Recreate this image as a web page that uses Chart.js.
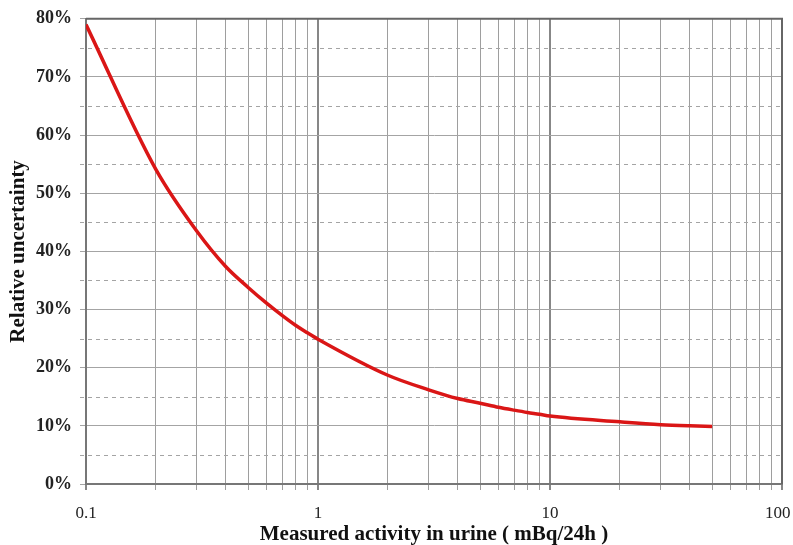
<!DOCTYPE html>
<html>
<head>
<meta charset="utf-8">
<script src="https://cdn.jsdelivr.net/npm/chart.js@4/dist/chart.umd.min.js"></script>
<style>
  html, body { margin: 0; padding: 0; background: #fff; }
  #wrap { width: 793px; height: 545px; }
</style>
</head>
<body>
<div id="wrap"><canvas id="c" width="793" height="545"></canvas></div>
<script>
// Measured activity (mBq/24h) and relative uncertainty (%)
const activity = [0.1, 0.2, 0.3, 0.4, 0.5, 0.6, 0.7, 0.8, 0.9, 1, 2, 3, 4, 5, 6, 7, 8, 9, 10, 20, 30, 40, 50];
const uncertainty = [79, 54.1, 43.5, 37.4, 33.8, 31.1, 29.0, 27.3, 26.0, 24.9, 18.7, 16.2, 14.7, 13.9, 13.2, 12.7, 12.3, 12.0, 11.7, 10.7, 10.2, 10.0, 9.9];

// Axis tick labels
const xLabelTicks = [0.1, 1, 10, 100];
const yLabelStep = 10;
const yMax = 80;

// log grid: every 1..9 step inside each decade
const xGridTicks = [];
for (let d = 0.1; d < 100; d *= 10) {
  for (let k = 1; k <= 9; k++) xGridTicks.push(+(k * d).toPrecision(3));
}
xGridTicks.push(100);

const serif = '"Liberation Serif", "DejaVu Serif", serif';

// dashed half-step lines and dark frame
const framePlugin = {
  id: 'frame',
  beforeDatasetsDraw(chart) {
    const { ctx, chartArea: a, scales } = chart;
    const y = scales.y;
    ctx.save();
    ctx.strokeStyle = '#a4a4a4';
    ctx.lineWidth = 1;
    ctx.setLineDash([4, 4]);
    for (let v = 5; v < yMax; v += 10) {
      const py = Math.round(y.getPixelForValue(v)) + 0.5;
      ctx.beginPath();
      ctx.moveTo(a.left - 6, py);
      ctx.lineTo(a.right, py);
      ctx.stroke();
    }
    ctx.setLineDash([]);
    ctx.strokeStyle = '#666';
    ctx.lineWidth = 2;
    ctx.beginPath();
    ctx.moveTo(a.left, a.top);
    ctx.lineTo(a.right, a.top);
    ctx.lineTo(a.right, a.bottom);
    ctx.stroke();
    ctx.restore();
  }
};

// the last label sits against the right edge, so it is nudged inward
const xLabel = (v) => {
  if (!xLabelTicks.includes(v)) return '';
  return v === 100 ? '100\u00a0\u00a0' : String(v);
};

new Chart(document.getElementById('c'), {
  type: 'line',
  data: {
    datasets: [{
      data: activity.map((x, i) => ({ x: x, y: uncertainty[i] })),
      borderColor: '#da1616',
      borderWidth: 3.5,
      pointRadius: 0,
      cubicInterpolationMode: 'monotone',
      fill: false
    }]
  },
  options: {
    responsive: false,
    animation: false,
    layout: { padding: { left: 0, top: 18, right: 0, bottom: 0 } },
    plugins: { legend: { display: false }, tooltip: { enabled: false } },
    scales: {
      x: {
        type: 'logarithmic',
        min: 0.1,
        max: 100,
        afterBuildTicks: (s) => { s.ticks = xGridTicks.map(v => ({ value: v })); },
        afterFit: (s) => { s.height = 61; s.paddingRight = 11; s.paddingLeft = 0; },
        ticks: {
          autoSkip: false,
          maxRotation: 0,
          padding: 13,
          color: '#222',
          font: { family: serif, size: 17 },
          callback: xLabel
        },
        grid: {
          color: (c) => xLabelTicks.includes(c.tick && c.tick.value) ? '#878787' : '#9e9e9e',
          lineWidth: (c) => xLabelTicks.includes(c.tick && c.tick.value) ? 2 : 1,
          tickLength: 6
        },
        border: { color: '#777', width: 2 },
        title: {
          display: true,
          text: 'Measured activity in urine ( mBq/24h )',
          color: '#111',
          font: { family: serif, size: 21, weight: 'bold', lineHeight: 1 },
          padding: { top: 0, bottom: 0 }
        }
      },
      y: {
        min: 0,
        max: yMax,
        afterFit: (s) => { s.width = 86; },
        ticks: {
          stepSize: 5,
          padding: 8,
          color: '#222',
          font: { family: serif, size: 18, weight: 'bold' },
          callback: (v) => v % yLabelStep === 0 ? v + '%' : ''
        },
        grid: {
          color: (c) => (c.tick && c.tick.value % yLabelStep === 0) ? '#a4a4a4' : 'rgba(0,0,0,0)',
          lineWidth: 1,
          tickLength: 6
        },
        border: { color: '#777', width: 2 },
        title: {
          display: true,
          text: 'Relative uncertainty',
          color: '#111',
          font: { family: serif, size: 21, weight: 'bold', lineHeight: 1 },
          padding: { top: 8, bottom: 0 }
        }
      }
    }
  },
  plugins: [framePlugin]
});
</script>
</body>
</html>
